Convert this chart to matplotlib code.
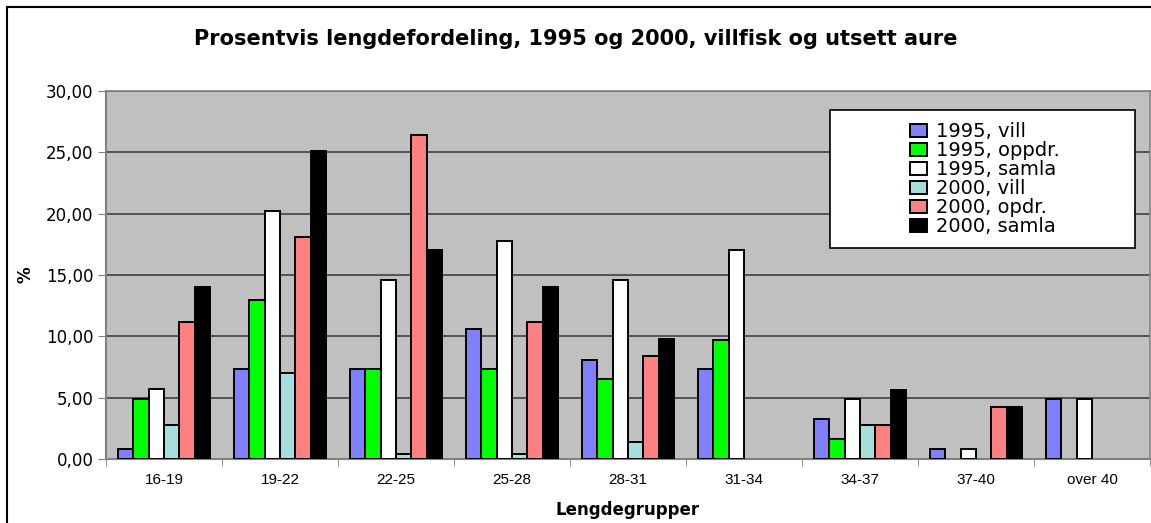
import matplotlib
matplotlib.use('Agg')
import matplotlib.pyplot as plt
import numpy as np
from matplotlib.ticker import FuncFormatter

plt.rcParams['font.family'] = ['Liberation Sans', 'DejaVu Sans']

# length groups and percent per series
groups = ['16-19', '19-22', '22-25', '25-28', '28-31', '31-34', '34-37', '37-40', 'over 40']
vill_1995 = [0.8, 7.3, 7.3, 10.6, 8.1, 7.3, 3.3, 0.8, 4.9]
oppdr_1995 = [4.9, 13.0, 7.3, 7.3, 6.5, 9.7, 1.6, 0.0, 0.0]
samla_1995 = [5.7, 20.2, 14.6, 17.8, 14.6, 17.0, 4.9, 0.8, 4.9]
vill_2000 = [2.8, 7.0, 0.4, 0.4, 1.4, 0.0, 2.8, 0.0, 0.0]
opdr_2000 = [11.2, 18.1, 26.4, 11.2, 8.4, 0.0, 2.8, 4.2, 0.0]
samla_2000 = [14.0, 25.1, 17.0, 14.0, 9.8, 0.0, 5.6, 4.2, 0.0]

series = [vill_1995, oppdr_1995, samla_1995, vill_2000, opdr_2000, samla_2000]
labels = ['1995, vill', '1995, oppdr.', '1995, samla', '2000, vill', '2000, opdr.', '2000, samla']
colors = ['#8080ff', '#00ff00', '#ffffff', '#a6dede', '#ff8080', '#000000']

fig = plt.figure(figsize=(11.51, 5.23), dpi=100)
ax = fig.add_axes([0.0921, 0.1224, 0.907, 0.7036])
ax.set_facecolor('#c0c0c0')

x = np.arange(len(groups))
n = len(series)
w = 0.8 / n
for k, (vals, lab, col) in enumerate(zip(series, labels, colors)):
    vals = np.array(vals)
    pos = x - 0.4 + w * (k + 0.5)
    bars = ax.bar(pos, vals, w, color=col, edgecolor='black', linewidth=1.4, label=lab, zorder=3)
    # Excel draws nothing for zero bars; hide outlines there
    for p in bars.patches:
        if p.get_height() == 0:
            p.set_linewidth(0)

ax.set_xlim(-0.5, len(groups) - 0.5)
ax.set_ylim(0, 30)
ax.set_yticks(np.arange(0, 31, 5))
ax.yaxis.set_major_formatter(FuncFormatter(lambda v, p: ('%.2f' % v).replace('.', ',')))
ax.set_xticks(x)
ax.set_xticklabels(groups)
ax.set_xticks(np.arange(-0.5, len(groups), 1), minor=True)
ax.tick_params(axis='x', which='major', length=0, pad=10, labelsize=11)
ax.tick_params(axis='x', which='minor', length=5, color='#808080')
ax.tick_params(axis='y', length=6, color='#808080', pad=3)
for t in ax.get_yticklabels():
    t.set_fontfamily('DejaVu Sans')
    t.set_fontsize(12)
ax.grid(axis='y', color='#404040', linewidth=1.2, zorder=1)
ax.set_axisbelow(True)
for s in ['left', 'bottom']:
    ax.spines[s].set_color('#808080')
    ax.spines[s].set_linewidth(1.5)
for s in ['top', 'right']:
    ax.spines[s].set_color('#808080')
    ax.spines[s].set_linewidth(1.2)

ax.set_xlabel('Lengdegrupper', fontsize=12, fontweight='bold', family='DejaVu Sans', labelpad=10)
ax.set_ylabel('%', fontsize=12, fontweight='bold', family='DejaVu Sans', labelpad=8)
fig.text(0.5, 0.925, 'Prosentvis lengdefordeling, 1995 og 2000, villfisk og utsett aure',
         ha='center', va='center', fontsize=15, fontweight='bold', family='DejaVu Sans')

# legend box (white frame) with the entries centred in it
box = plt.Rectangle((0.6935, 0.5734), 0.2921, 0.3746, transform=ax.transAxes,
                    facecolor='white', edgecolor='black', linewidth=1.2, zorder=4)
ax.add_patch(box)
leg = ax.legend(loc='center', bbox_to_anchor=(0.842, 0.761), frameon=False,
                prop={'family': 'DejaVu Sans', 'size': 14},
                handlelength=0.87, handleheight=0.67, handletextpad=0.45,
                labelspacing=0.0, borderpad=0, borderaxespad=0)
leg.set_zorder(5)

# outer chart border
fig.add_artist(plt.Rectangle((7 / 1151, -0.01), 1.0, 1 - 7 / 523 + 0.01, transform=fig.transFigure,
                             fill=False, edgecolor='black', linewidth=1.5))

plt.savefig('out.png', dpi=100)
